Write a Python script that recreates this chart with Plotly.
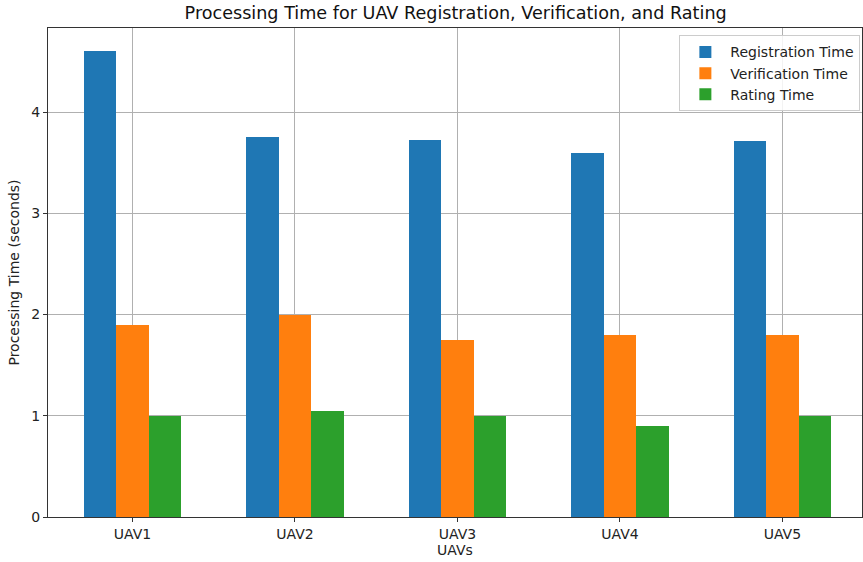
import plotly.graph_objects as go

categories = ["UAV1", "UAV2", "UAV3", "UAV4", "UAV5"]
registration = [4.60, 3.75, 3.72, 3.60, 3.71]
verification = [1.90, 2.00, 1.75, 1.80, 1.80]
rating = [1.00, 1.05, 1.00, 0.90, 1.00]

series = [
    ("Registration Time", registration, "#1f77b4", -0.2),
    ("Verification Time", verification, "#ff7f0e", 0.0),
    ("Rating Time", rating, "#2ca02c", 0.2),
]

idx = list(range(len(categories)))
fig = go.Figure()
for name, vals, color, off in series:
    fig.add_trace(go.Bar(
        x=[i + off for i in idx], y=vals, name=name, width=0.2,
        marker=dict(color=color, line=dict(width=0)),
    ))

font = "DejaVu Sans, sans-serif"
fig.update_layout(
    width=863, height=562,
    margin=dict(l=48, r=1, t=28, b=45),
    plot_bgcolor="white", paper_bgcolor="white",
    font=dict(family=font, size=14, color="#222"),
    title=dict(text="Processing Time for UAV Registration, Verification, and Rating",
               x=0.528, xanchor="center", y=1 - 13/562, yanchor="middle",
               font=dict(size=17.6, color="#111")),
    showlegend=True,
    legend=dict(x=0.998, xanchor="right", y=0.985, yanchor="top",
                bordercolor="#cccccc", borderwidth=1, bgcolor="rgba(255,255,255,0.85)",
                font=dict(size=14), tracegroupgap=0, itemwidth=40),
    bargap=0,
)
fig.update_xaxes(
    tickmode="array", tickvals=idx, ticktext=categories,
    range=[-0.52, 4.49],
    showgrid=True, gridcolor="#b0b0b0", gridwidth=1,
    showline=True, linecolor="#333", linewidth=1, mirror=True,
    ticks="outside", ticklen=4, tickcolor="#333",
    title=dict(text="UAVs", standoff=4, font=dict(size=14)),
    zeroline=False, layer="above traces", automargin=False,
)
fig.update_yaxes(
    range=[0, 4.83], tickvals=[0, 1, 2, 3, 4],
    showgrid=True, gridcolor="#b0b0b0", gridwidth=1,
    showline=True, linecolor="#333", linewidth=1, mirror=True,
    ticks="outside", ticklen=4, tickcolor="#333",
    title=dict(text="Processing Time (seconds)", standoff=8, font=dict(size=14)),
    zeroline=False, layer="above traces", automargin=False,
)
fig.write_html("out.html", config={"displayModeBar": False},
               post_script="document.body.style.margin='0px';")
